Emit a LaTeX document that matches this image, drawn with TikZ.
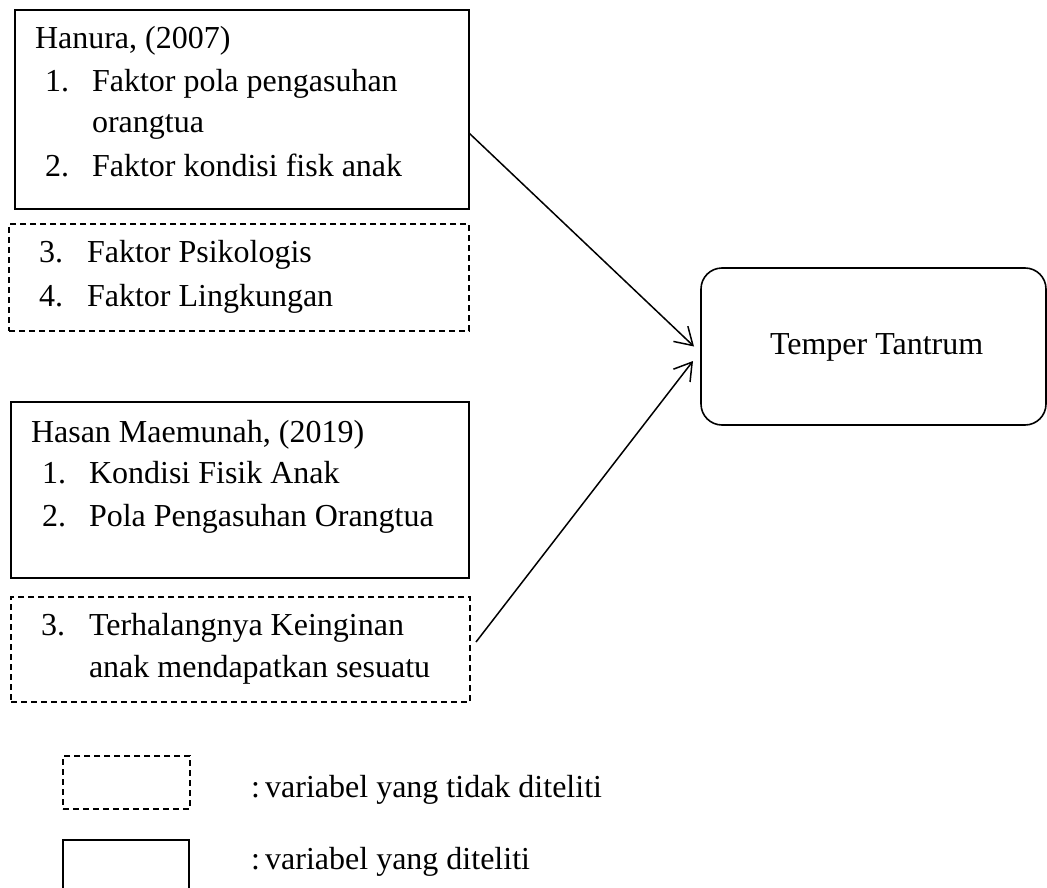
\documentclass[tikz,border=0pt]{standalone}
\usepackage{fontspec}
\setmainfont{Liberation Serif}
\usetikzlibrary{arrows.meta}
\begin{document}
\begin{tikzpicture}[x=1pt,y=-1pt,
  txt/.style={anchor=base west,inner sep=0pt,outer sep=0pt,font=\fontsize{32pt}{38pt}\selectfont},
  boxbase/.style={draw,line width=1.6pt,inner sep=0pt,outer sep=0pt,anchor=north west},
  solidbox/.style={boxbase},
  dashbox/.style={boxbase,dash pattern=on 6pt off 4pt,line width=1.4pt},
  arr/.style={line width=1.5pt,-{Straight Barb[length=17pt,width=21pt,line width=1.5pt]}}
]
\clip (0,0) rectangle (1047,888);
% boxes
\node[solidbox,minimum width=454pt,minimum height=199pt] (b1) at (15,10) {};
\node[dashbox,minimum width=460pt,minimum height=107pt] (b2) at (9,224) {};
\node[solidbox,minimum width=458pt,minimum height=176pt] (b3) at (11,402) {};
\node[dashbox,minimum width=459pt,minimum height=105pt] (b4) at (11,597) {};
\node[solidbox,rounded corners=21pt,minimum width=345pt,minimum height=157pt] (tt) at (701,268) {};
\node[txt] (ttl) at (770,354) {Temper Tantrum};
% legend boxes
\node[dashbox,minimum width=127pt,minimum height=53pt] (lg1) at (63,756) {};
\node[solidbox,minimum width=126pt,minimum height=70pt] (lg2) at (63,840) {};
% texts box 1
\node[txt] (h1) at (35,49) {Hanura, (2007)};
\node[txt] (n11) at (45,92) {1.};
\node[txt] (t11) at (92,92) {Faktor pola pengasuhan};
\node[txt] (t11b) at (92,133) {orangtua};
\node[txt] (n12) at (45,176) {2.};
\node[txt] (t12) at (92,176) {Faktor kondisi fisk anak};
% box 2
\node[txt] (n23) at (39,262) {3.};
\node[txt] (t23) at (87,262) {Faktor Psikologis};
\node[txt] (n24) at (39,306) {4.};
\node[txt] (t24) at (87,306) {Faktor Lingkungan};
% box 3
\node[txt] (h3) at (31,442) {Hasan Maemunah, (2019)};
\node[txt] (n31) at (42,483) {1.};
\node[txt] (t31) at (89,483) {Kondisi Fisik Anak};
\node[txt] (n32) at (42,526) {2.};
\node[txt] (t32) at (89,526) {Pola Pengasuhan Orangtua};
% box 4
\node[txt] (n43) at (41,635) {3.};
\node[txt] (t43) at (89,635) {Terhalangnya Keinginan};
\node[txt] (t43b) at (89,677) {anak mendapatkan sesuatu};
% legend texts
\node[txt] (l1) at (251,797) {:\,variabel yang tidak diteliti};
\node[txt] (l2) at (251,869) {:\,variabel yang diteliti};
% arrows
\draw[arr] ([yshift=-23.5pt]b1.east) -- ([xshift=-7pt]tt.west);
\draw[arr] ([xshift=6pt,yshift=7.5pt]b4.east) -- ([xshift=-8pt,yshift=-14.5pt]tt.west);
\end{tikzpicture}
\end{document}
